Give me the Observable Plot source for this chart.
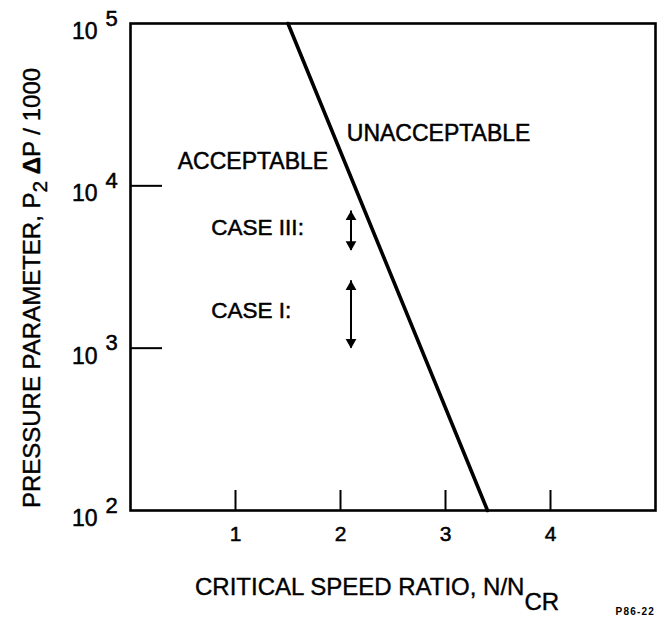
<!DOCTYPE html>
<html>
<head>
<meta charset="utf-8">
<script src="https://cdn.jsdelivr.net/npm/d3@7"></script>
<script src="https://cdn.jsdelivr.net/npm/@observablehq/plot@0.6"></script>
<style>
  body { margin: 0; background: #fff; }
  svg { display: block; }
</style>
</head>
<body>
<div id="chart"></div>
<script>
// ---- data ----
const xTicks = [1, 2, 3, 4];
const yTickValues = [100, 1000, 10000, 100000];
const yTickExponents = ["2", "3", "4", "5"];
const yInnerTicks = [1000, 10000];

// boundary between acceptable and unacceptable
const boundaryX = [1.5, 3.4];
const boundaryY = [100000, 100];

// case ranges (double arrows)
const caseNames = ["CASE III:", "CASE I:"];
const caseX = [2.1, 2.1];
const caseLow = [4000, 1000];
const caseHigh = [7000, 2600];
const caseLabelX = [0.77, 0.77];
const caseLabelY = [5500, 1700];

// region labels
const regionLabels = ["ACCEPTABLE", "UNACCEPTABLE"];
const regionX = [0.45, 2.06];
const regionY = [14000, 21000];

const boundary = boundaryX.map((x, i) => ({x, y: boundaryY[i]}));
const cases = caseNames.map((name, i) => ({name, x: caseX[i], lo: caseLow[i], hi: caseHigh[i], lx: caseLabelX[i], ly: caseLabelY[i]}));
const regions = regionLabels.map((label, i) => ({label, x: regionX[i], y: regionY[i]}));
const yTicks = yTickValues.map((v, i) => ({v, e: yTickExponents[i]}));

const font = "'Liberation Sans', Arial, Helvetica, sans-serif";
const heavy = {stroke: "black", strokeWidth: 0.5, fill: "black"};

const chart = Plot.plot({
  width: 657,
  height: 617,
  marginLeft: 130,
  marginRight: 2,
  marginTop: 23,
  marginBottom: 107,
  style: {fontFamily: font, color: "black", background: "white"},
  x: {domain: [0, 5], axis: null},
  y: {type: "log", domain: [100, 100000], axis: null},
  marks: [
    Plot.frame({stroke: "black", strokeWidth: 2.6}),
    // inward y ticks
    Plot.axisY(yInnerTicks, {anchor: "left", tickSize: -32, tickFormat: () => "", label: null, strokeWidth: 2}),
    // inward x ticks
    Plot.axisX(xTicks, {anchor: "bottom", tickSize: -20, tickFormat: () => "", label: null, strokeWidth: 2}),
    // y tick labels 10^n
    Plot.text(yTicks, {y: "v", frameAnchor: "left", text: () => "10", textAnchor: "end", dx: -33, dy: 8, fontSize: 23, ...heavy}),
    Plot.text(yTicks, {y: "v", frameAnchor: "left", text: "e", textAnchor: "start", dx: -25, dy: -5, fontSize: 22, ...heavy}),
    // x tick labels
    Plot.text(xTicks, {x: d => d, frameAnchor: "bottom", text: d => String(d), dy: 30, fontSize: 21, ...heavy}),
    // boundary line
    Plot.line(boundary, {x: "x", y: "y", stroke: "black", strokeWidth: 3.6}),
    // region labels
    Plot.text(regions, {x: "x", y: "y", text: "label", textAnchor: "start", fontSize: 23, ...heavy}),
    // case labels
    Plot.text(cases, {x: "lx", y: "ly", text: "name", textAnchor: "start", fontSize: 22.5, ...heavy}),
    // double arrows
    Plot.ruleX(cases, {x: "x", y1: "lo", y2: "hi", stroke: "black", strokeWidth: 2}),
    Plot.dot(cases, {x: "x", y: "hi", symbol: "triangle", r: 4, fill: "black", stroke: null, dy: 6}),
    Plot.dot(cases, {x: "x", y: "lo", symbol: "triangle", r: 4, fill: "black", stroke: null, rotate: 180, dy: -6})
  ]
});

document.getElementById("chart").appendChild(chart);

// axis titles with sub/superscripts
const svg = d3.select(chart);
const xt = svg.append("text")
  .attr("x", 195).attr("y", 595)
  .attr("text-anchor", "start")
  .attr("font-family", font).attr("font-size", 24)
  .attr("fill", "black").attr("stroke", "black").attr("stroke-width", 0.4);
xt.append("tspan").text("CRITICAL SPEED RATIO, N/N");
xt.append("tspan").attr("dy", 15).text("CR");

const yt = svg.append("text")
  .attr("transform", "translate(40,288) rotate(-90)")
  .attr("text-anchor", "middle")
  .attr("font-family", font).attr("font-size", 24)
  .attr("fill", "black").attr("stroke", "black").attr("stroke-width", 0.4);
yt.append("tspan").text("PRESSURE PARAMETER, P");
yt.append("tspan").attr("dy", 7).attr("font-size", 21).text("2");
yt.append("tspan").attr("dy", -7).text(" ");
yt.append("tspan").attr("font-weight", "bold").text("\u0394");
yt.append("tspan").text("P / 1000");

svg.append("text")
  .attr("x", 655).attr("y", 615)
  .attr("text-anchor", "end")
  .attr("font-family", font).attr("font-size", 10).attr("font-weight", "bold")
  .attr("letter-spacing", 1.2).attr("fill", "black")
  .text("P86-22");
</script>
</body>
</html>
